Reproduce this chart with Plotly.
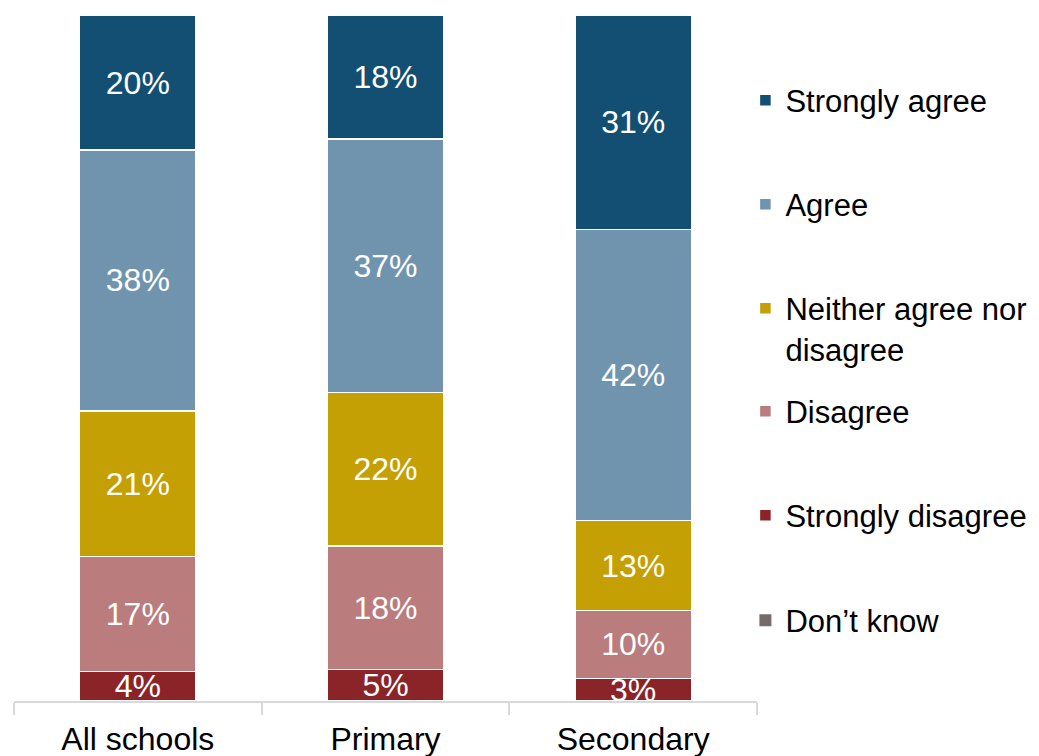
import plotly.graph_objects as go

categories = ["All schools", "Primary", "Secondary"]
series_names = ["Don\u2019t know", "Strongly disagree", "Disagree",
                "Neither agree nor<br>disagree", "Agree", "Strongly agree"]
dont_know = [0, 0, 0]
strongly_disagree = [4.3, 4.6, 3.3]
disagree = [16.8, 18.0, 9.9]
neither = [21.2, 22.4, 13.1]
agree = [38.0, 36.9, 42.4]
strongly_agree = [19.7, 18.1, 31.3]

colors = ["#756B6B", "#8B2429", "#BA7C7D", "#C4A004", "#7094AE", "#134F73"]
values = [dont_know, strongly_disagree, disagree, neither, agree, strongly_agree]

FONT = "Liberation Sans, Arial, sans-serif"
FS = 32
LEG_FS = 31

# the page body adds an 8px offset; work in figure coordinates
OFF = 8
W, HGT = 1039, 756
PLOT_LEFT, PLOT_RIGHT = 14 - OFF, 757 - OFF
PLOT_TOP, PLOT_BOTTOM = 15 - OFF, 701 - OFF
H = PLOT_BOTTOM - PLOT_TOP
PW = PLOT_RIGHT - PLOT_LEFT

# legend first-line centre positions (screen pixels) for each series
legend_pix = {"Strongly agree": 102, "Agree": 206, "Neither agree nor<br>disagree": 310,
              "Disagree": 413, "Strongly disagree": 517, "Don\u2019t know": 622}
LEGEND_TEXT_X = 786 - OFF

fig = go.Figure()
legend_layouts = {}
for i, (name, vals, col) in enumerate(zip(series_names, values, colors)):
    lname = "legend" if i == 0 else f"legend{i+1}"
    is_dk = name.startswith("Don")
    fig.add_trace(go.Bar(
        x=categories, y=vals, name=name,
        marker=dict(color=col, line=dict(color="white", width=0 if is_dk else 1.5)),
        text=None if is_dk else [f"{round(v)}%" for v in vals],
        textposition="inside", insidetextanchor="middle",
        textfont=dict(color="white", size=FS, family=FONT),
        legend=lname, hoverinfo="skip",
    ))
    ypix = legend_pix[name] - OFF
    legend_layouts[lname] = dict(
        x=(LEGEND_TEXT_X - 40.6 - PLOT_LEFT) / PW, xanchor="left",
        y=(PLOT_BOTTOM - ypix + 28.5) / H, yanchor="top",
        font=dict(size=LEG_FS, family=FONT, color="black"),
        bgcolor="rgba(0,0,0,0)", valign="top", tracegroupgap=0,
    )

fig.update_layout(
    barmode="stack",
    bargap=0.53,
    width=W, height=HGT,
    margin=dict(l=PLOT_LEFT, r=W - PLOT_RIGHT, t=PLOT_TOP, b=HGT - PLOT_BOTTOM,
                autoexpand=False),
    plot_bgcolor="white", paper_bgcolor="white",
    font=dict(family=FONT, size=FS, color="black"),
    uniformtext=dict(minsize=FS, mode="show"),
    showlegend=True,
    xaxis=dict(showline=True, linecolor="#D9D9D9", linewidth=2,
               ticks="outside", tickson="boundaries", ticklen=12,
               tickcolor="#D9D9D9", tickwidth=2, ticklabelstandoff=9,
               tickfont=dict(size=FS, family=FONT, color="black")),
    yaxis=dict(range=[0, 100], visible=False, showgrid=False),
    **legend_layouts,
)

fig.write_html("out.html")
